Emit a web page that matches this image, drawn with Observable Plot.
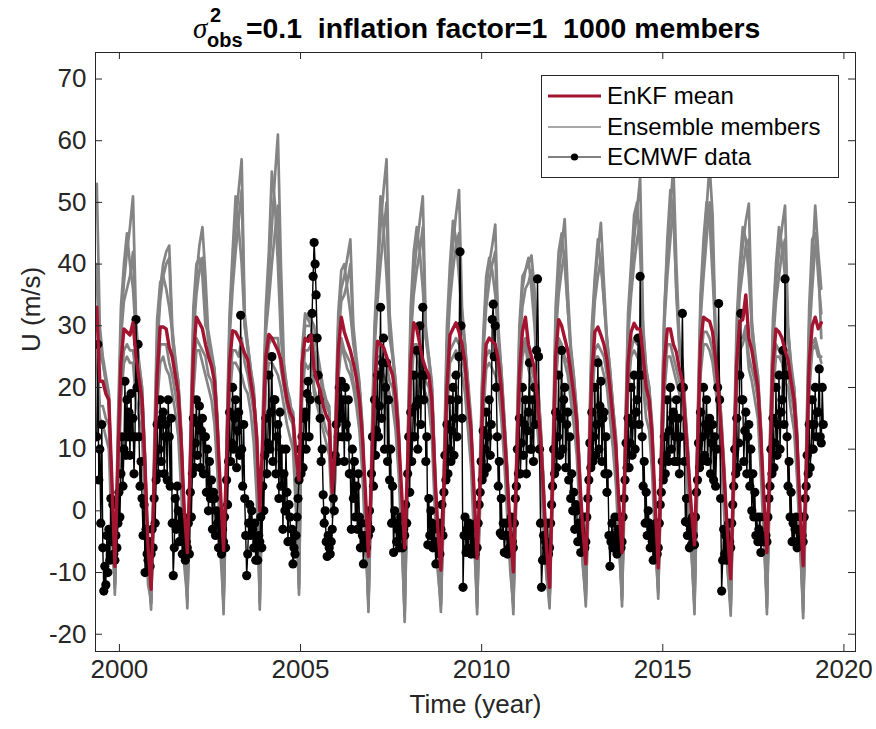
<!DOCTYPE html>
<html><head><meta charset="utf-8">
<script src="https://cdn.jsdelivr.net/npm/d3@7"></script>
<script src="https://cdn.jsdelivr.net/npm/@observablehq/plot@0.6"></script>
<style>body{margin:0;background:#fff;}</style>
</head><body><div id="chart"></div>
<script>
// time grid start (year); mean & members monthly, ECMWF every 1/36 year
const T0 = 1999.375;

// EnKF mean, one row per year (12 monthly values starting at T0+k)
const meanRows = [
 [33,21,21,19,18,5,-9,8,24,29.5,29,28.5],
 [30.5,25,21.5,18,7,-6,-12.7,5,22,29.8,29.8,29.5],
 [26.5,25,22,19,11,0,-6.75,8,25,31.4,30.5,29.5],
 [27,25,23.5,21,13,3,-6.4,8,24,29.2,29,28],
 [27,25.5,24.5,21,18,12,0,12,25,28.6,28,27],
 [26,24.5,21,18,16,15,9,5,24,28,27.5,28.5],
 [23,21,19.5,17,15.5,14.5,3,10,26,31.4,29,27.5],
 [26,24,21.5,18,12,3,-7.4,6,20,27.5,27,26.5],
 [25,23.5,22,18.5,12,3,-6,8,24,30.5,29.5,27],
 [24.5,23,22,18,6,-3,-9.6,4,20,28.5,29.5,30.5],
 [29,27,24,18,13,3,-7.7,5,20,27,28,27.5],
 [27,24.5,20,13,5,-3,-9.9,6,22,29,31.4,27],
 [25,23,18,12,3,-6,-12.4,5,25,31,30,28],
 [26,22.6,19,14.5,5,-3,-8.6,6,22,29,29.8,28.5],
 [27,24.5,20,15,10,1,-6.75,8,24,29,30.4,29.5],
 [29.5,25,20,18,12,1,-9.25,8,24,29.5,29.5,27],
 [25.75,23,21,14,7,0,-5.5,10,27,31.4,31,30.75],
 [29,24.5,19,12,4,-4,-11,6,24,30.75,31,35],
 [28,26,23,20,12,2,-6.75,8,24,29.5,29,28],
 [26,24.5,21,18,11,0,-8.9,6,24,30,31.4,29.5],
 [30.5]
];

// Ensemble members (monthly)
const memberARows = [
 [53,30,25,22,19,2,-13.6,10,30,37,42,46],
 [51,31,24,20,9,-9,-16,7,28,36,40,42],
 [43,30,24,21,13,-4,-15.8,9,30,38,43,46],
 [38,28,25,23,15,-2,-16.75,10,30,40,46,52],
 [57,32,27,23,20,10,-16,12,30,38,46,54],
 [61,40,24,20,18,14,2,-13.6,22,31,32,31],
 [30,26,23,20,18,17,3,12,30,36,38,41],
 [44,30,25,21,14,-2,-16.4,8,28,38,46,52],
 [57,32,26,21,14,-3,-18,10,30,38,43,47],
 [51,30,25,21,8,-9,-16.4,6,27,37,43,48],
 [52,33,27,21,15,-2,-16.75,7,27,36,40,43],
 [46.4,30,23,15,7,-8,-16.75,8,28,36,39,40],
 [41.4,36,22,14,5,-10,-15.8,7,30,38,43,47.3],
 [36,27,22,16,7,-8,-15.5,8,28,37,42,46.7],
 [37,28,23,17,12,-4,-15.5,10,30,38,44,49],
 [54,30,23,20,14,-4,-14.25,10,32,42,49,56],
 [40,28,24,16,9,-6,-16.75,12,33,42,49,56],
 [48,29,21,14,6,-9,-17,8,28,38,43,47],
 [49.8,31,25,22,14,-3,-16.75,10,29,37,42,46],
 [49.5,30,23,20,13,-4,-17.4,8,30,40,49.5,42],
 [36]
];
const memberBRows = [
 [40,26,24,21,17,4,-11,9,28,34,36,38],
 [42,29,23,19,8,-7,-14,6,26,34,38,40],
 [41,28,23,20,12,-2,-13,9,28,35,39,41],
 [32,27,24,22,14,0,-14,9,28,36,42,47],
 [52,30,26,22,19,12,-12,12,29,34,40,45],
 [49.5,30,23,19,17,16,7,-8,24,30,30,30],
 [26,24,22,19,17,16,1,10,28,34,35,37],
 [40,28,24,20,13,0,-13,8,26,34,40,45],
 [50,30,25,20,13,-1,-14,9,28,35,39,42],
 [46,28,24,20,7,-7,-14,5,25,34,39,43],
 [45,31,26,20,14,0,-14,7,25,33,37,40],
 [42,28,22,14,6,-6,-14,7,26,33,36,37],
 [39,33,21,13,4,-9,-14.5,6,28,35,39,42],
 [33,26,21,15,6,-6,-13,7,26,34,38,41],
 [34,27,22,16,11,-2,-13,9,28,35,40,44],
 [47,28,22,19,13,-2,-12,9,30,38,44,50],
 [35,26,23,15,8,-4,-14,11,31,38,44,50],
 [44,27,20,13,5,-7,-15,7,27,35,39,43],
 [44,29,24,21,13,-1,-14,9,27,34,38,42],
 [44,28,22,19,12,-2,-15,7,28,36,43,40],
 [28]
];
const memberCRows = [
 [27,17,17,15,14,0,-12,4,20,26,27,26],
 [26,22,19,15,4,-8,-15,3,20,27,27,27],
 [24,22,19,16,8,-4,-13,5,22,28,27,26],
 [25,22,21,18,10,-1,-12,5,21,26,26,25],
 [28,24,22,19,16,8,-10,8,22,27,28,28],
 [28,23,20,17,15,14,6,0,20,26,26,27],
 [20,18,17,15,13,12,0,7,22,28,26,25],
 [24,21,19,15,9,-1,-12,4,18,25,25,24],
 [24,21,20,16,9,-1,-12,5,21,27,27,25],
 [23,21,20,15,3,-6,-13,2,18,26,27,28],
 [27,25,22,15,10,-1,-12,3,18,25,26,25],
 [25,22,18,10,2,-6,-13,4,20,26,28,25],
 [23,21,16,10,1,-8,-14,3,22,28,27,25],
 [24,20,17,12,3,-5,-11,4,19,26,27,26],
 [25,22,18,13,8,-1,-11,6,21,26,28,27],
 [27,22,18,16,10,-1,-11,5,22,27,27,25],
 [23,21,19,12,5,-3,-12,7,24,29,29,28],
 [26,22,17,10,2,-7,-14,4,21,28,28,30],
 [25,23,21,18,9,-1,-12,5,21,27,26,25],
 [24,22,19,16,8,-3,-13,4,21,27,28,26],
 [24]
];
const memberDRows = [
 [38,25,24,21,19,3,-12.6,14,33,40,45,40],
 [36,28,24,20,8,-8,-15,10,31,37,38,36],
 [33,29,25,21,12,-3,-14.8,12,33,40,41,38],
 [30,29,26,23,14,0,-15.7,12,32,42,51,46],
 [40,30,27,23,19,12,-15,16,33,42,55,50],
 [40,28,23,20,17,16,8,-12.6,26,32,31,30],
 [26,23,22,19,17,16,2,14,32,39,40,36],
 [32,27,24,20,13,0,-15.4,10,30,40,51,46],
 [38,28,25,21,13,-1,-17,12,33,42,46,42],
 [36,28,25,20,7,-7,-15.4,8,30,40,47,44],
 [38,31,27,20,14,0,-15.75,9,28,38,41,39],
 [35,28,23,15,6,-6,-15.75,10,30,38,39,41],
 [36,30,21,14,4,-9,-14.8,9,33,42,45,40],
 [33,26,22,16,6,-6,-14.5,10,30,38,44,40],
 [34,28,23,17,11,-2,-14.5,12,32,40,48,50],
 [42,29,23,20,13,-2,-13.25,12,32,44,52,48],
 [36,27,24,16,8,-4,-15.75,14,35,44,50,47],
 [38,28,22,14,5,-7,-16,10,31,40,46,44],
 [38,30,26,22,13,-1,-15.75,12,31,40,46,43],
 [38,29,24,20,12,-2,-16.4,10,33,44,45,38],
 [32]
];
const memberERows = [
 [25,15,14,12,10,-4,-12,2,18,24,25,24],
 [24,18,15,12,0,-12,-14.5,0,17,24,25,23],
 [22,19,16,12,3,-9,-14.3,2,19,26,26,24],
 [22,20,18,14,6,-7,-15.2,3,18,24,24,23],
 [22,20,19,16,11,2,-14.5,5,20,24,24,23],
 [22,20,17,14,12,10,0,-12,18,24,23,24],
 [19,17,15,13,11,9,-1,5,21,27,25,23],
 [22,20,17,13,6,-5,-15,2,16,23,23,22],
 [21,19,17,13,6,-5,-16.5,3,19,26,25,23],
 [20,19,17,12,0,-10,-15,0,15,24,25,26],
 [24,22,19,13,7,-5,-15.2,1,15,23,24,23],
 [22,20,15,8,-1,-10,-15.2,2,17,25,27,23],
 [21,19,13,7,-3,-11,-14.3,1,20,27,26,24],
 [22,18,14,9,-1,-9,-14,2,17,25,25,24],
 [22,20,15,10,4,-6,-14,4,19,25,26,25],
 [24,20,15,13,6,-6,-12.8,4,19,25,25,23],
 [21,19,16,9,1,-7,-15.2,5,22,27,27,26],
 [24,20,14,7,-2,-10,-15.5,2,19,26,27,29],
 [23,21,18,15,6,-5,-15.2,4,19,25,25,24],
 [21,20,16,13,5,-6,-15.8,2,19,26,27,25],
 [25]
];

// ECMWF data, one row per year (36 values, every 1/36 year from T0+k)
const ecmwfRows = [
 [12,27,5, 10,-2,14, -6,-13,-9, -12,-4,-10, -3,-8,2, -5,1,-7, -8,-4,-6, -2,3,-1, 6,12,4, 10,21,9, 18,12,16, 9,19,12],
 [15,6,12, 31,20,27, 12,4,8, 2,-4,1, -10,-3,-7, -8,-5,-9, -7,-3,-6, 2,-2,5, 14,6,10, 18,8,15, 16,6,12, 14,5,18],
 [12,4,15, -2,-10.5,-6, 2,-3,4, 0,-5,-2, -3,-7,-1, -4,-8,-5, -6,-2,-7, 3,-1,6, 15,7,11, 18,9,14, 17,7,13, 15,6,12],
 [12,3,10, 0,8,2, 5,-3,3, 2,-4,0, -2,-6,-1, -4,-7,-3, -5,-1,-6, 5,1,8, 16,8,11, 20,10,15, 18,7,13, 16,9,31.7],
 [10,4,14, 2,-4,-10.5, -7,-2,1, -4,0,-3, -6,-2,-8, -5,-8,-4, -5,-1,-6, 4,0,9, 15,6,11, 22,10,16, 25,8,18, 18,6,12],
 [14,2,16, 4,10,-3, 6,0,10, 3,-5,1, -1,-5,-3, -8.6,-6,-7, -4,-1,2, 5,10,6, 12,7,15, 16,10,19, 21,12,18, 28,32,38],
 [43.5,40,35, 28,22,18, 15,8,10, 2.6,-2,0, -5,-7.4,-4, -6,-7,-5, -3,2,0, 9,14,8, 12,20,15, 21,12,18, 8,20,14, 12,18,6],
 [6,-3,10, 2,8,-1, 4,-3,6, -1,-6,-2, -4,-8.6,-5, -4,-6,-2, -4,0,-3, 6,12,4, 18,9,13, 22,12,17, 33,15,24, 28,10,20],
 [24,8,18, 5,10,-2, 4,-6.75,0, -2,-5,-3, -3,-6,-1, -4,-6,-3, -4,1,-2, 6,12,3, 16,8,12, 22,12,17, 26,10,18, 30,14,22],
 [33,18,22, 8,12,-5.5, 2,-4,0, -2,-6,-3, -5,-8.6,-6, -6,-2,-7, -3,1,-4, 3,9,5, 14,6,10, 18,8,13, 20,9,15, 22,12,18],
 [25,42,30, 15,-12.4,-4, -1,-6.75,-3, -6,-2,-4, -7,-3,-6, -5,-7,-2, -6,-2,1, 3,8,5, 13,6,10, 16,7,12, 18,9,14, 31,33.5,25],
 [30,20,12, 4,8,-3.6, 2,-4,-2, -6.75,-4,-2, -7,-4,-6, -6,-1,-5, -6,-2,2, 4,10,6, 15,6,11, 20,9,14, 18,6,13, 16,24,10],
 [10,18,8, 20,14,26, 37.6,25,10, -2,-12.4,-8, -4,-8,-5, -6,-2,-7, -6,-2,1, 4,10,6, 16,7,12, 22,9,15, 26,10,18, 20,7,14],
 [16,5,12, 2,6,0, 3,-3,1, 0,-5,-2, -3,-6.75,-4, -5,-1,-6, -5,-1,2, 5,11,7, 16,8,12, 20,9,14, 24,10,17, 21,8,15],
 [16,6,12, 3,6,-4, -9,-5,-2, -6,-4,-1, -4,-7,-3, -5,-1,-6, -5,-1,2, 5,11,7, 15,7,11, 20,9,14, 22,10,16, 18,28,14],
 [38,22,12, 4,8,-2, 3,-4,0, -2,-6,-3, -5,-8,-4, -6,-2,-7, -6,-2,1, 3,8,5, 12,6,9, 18,8,13, 20,10,15, 16,8,12],
 [18,8,15, 6,12,20, 32,20,8, -1.75,2,-4, -2,-6,-3, -5.5,-1,-4, -5.5,-1,3, 5,11,7, 16,8,12, 20,9,14, 18,8,13, 15,6,11],
 [14,5,12, 4,10,20, 33.6,18,2, -13,-8,-3, -7,-4,-8, -6,-2,-5, -6,-2,1, 4,10,6, 15,7,11, 22,32,18, 18,8,13, 16,6,12],
 [14,4,10, 0,6,-1, 3,-4,-1, -5,-3,-1, -6.75,-4,-5, -5,-1,-4, -5,-1,2, 4,10,6, 15,7,11, 20,9,14, 22,10,16, 18,26,14],
 [37.6,22,12, 4,8,-1, 3,-5,-2, -5,-3,-1, -6,-3,-5, -5.5,-1,-4, -5,-1,2, 4,9,6, 14,7,10, 18,10,14, 20,12,16, 16,23,12],
 [11,20,14]
];

const xTicks = [2000, 2005, 2010, 2015, 2020];
const yTicks = [-20, -10, 0, 10, 20, 30, 40, 50, 60, 70];

const series = (rows, perYear) => rows.flat().map((v, i) => ({t: T0 + i / perYear, v}));
const meanData = series(meanRows, 12);
const members = [memberERows, memberCRows, memberBRows, memberDRows, memberARows].map(r => series(r, 12));
const ecmwf = series(ecmwfRows, 36);

const W = 876, H = 729, mL = 95, mR = 21, mT = 52, mB = 78;
const fw = W - mL - mR, fh = H - mT - mB, tl = 7;
const FONT = "'Liberation Sans', Arial, Helvetica, sans-serif";
const AX = "#262626";
const RED = "#A2142F", GRAY = "#848484";

const plot = Plot.plot({
  width: W, height: H,
  marginLeft: mL, marginRight: mR, marginTop: mT, marginBottom: mB,
  style: {fontFamily: FONT, fontSize: "26px", color: AX, background: "#fff", overflow: "visible"},
  x: {domain: [1999.34, 2020.32]},
  y: {domain: [-22.8, 74.3]},
  marks: [
    ...members.map(m => Plot.line(m, {x: "t", y: "v", stroke: GRAY, strokeWidth: 2.7, clip: true})),
    Plot.line(ecmwf, {x: "t", y: "v", stroke: "#000", strokeWidth: 1.4, clip: true}),
    Plot.dot(ecmwf, {x: "t", y: "v", r: 4.6, fill: "#000", stroke: "none", clip: true}),
    Plot.line(meanData, {x: "t", y: "v", stroke: RED, strokeWidth: 3.4, clip: true}),
    Plot.frame({stroke: AX, strokeWidth: 1}),
    Plot.tickX(xTicks, {x: d => d, insetTop: fh - tl, stroke: AX}),
    Plot.tickX(xTicks, {x: d => d, insetBottom: fh - tl, stroke: AX}),
    Plot.tickY(yTicks, {y: d => d, insetRight: fw - tl, stroke: AX}),
    Plot.tickY(yTicks, {y: d => d, insetLeft: fw - tl, stroke: AX}),
    Plot.axisX(xTicks, {tickSize: 0, tickPadding: 8, fontSize: 26, label: null, tickFormat: d => String(d)}),
    Plot.axisY(yTicks, {tickSize: 0, tickPadding: 9, fontSize: 26, label: null, tickFormat: d => String(d)}),
    Plot.text(["Time (year)"], {frameAnchor: "bottom", dy: 61, fontSize: 26, fill: AX}),
    Plot.text(["U (m/s)"], {frameAnchor: "left", dx: -64, rotate: -90, fontSize: 26, fill: AX})
  ]
});

const svg = d3.select(plot);
// title
const tg = svg.append("g").attr("fill", "#000").attr("font-family", FONT).attr("text-anchor", "start");
tg.append("text").attr("x", 193).attr("y", 38).attr("font-size", 29)
  .attr("font-style", "italic").attr("font-family", "'Liberation Serif', 'DejaVu Serif', serif").text("σ");
tg.append("text").attr("x", 210).attr("y", 22).attr("font-size", 20).attr("font-weight", "bold").text("2");
tg.append("text").attr("x", 207).attr("y", 47).attr("font-size", 20).attr("font-weight", "bold").text("obs");
tg.append("text").attr("x", 246).attr("y", 38).attr("font-size", 28.4).attr("font-weight", "bold")
  .style("white-space", "pre").text("=0.1  inflation factor=1  1000 members");

// legend
const lg = svg.append("g").attr("font-family", FONT).attr("font-size", 24).attr("text-anchor", "start");
lg.append("rect").attr("x", 541.5).attr("y", 75.5).attr("width", 297).attr("height", 102)
  .attr("fill", "#fff").attr("stroke", AX).attr("stroke-width", 1);
const rows = [
  {label: "EnKF mean", stroke: RED, w: 3.2, dot: false, y: 96},
  {label: "Ensemble members", stroke: "#a8a8a8", w: 2, dot: false, y: 127},
  {label: "ECMWF data", stroke: "#000", w: 1, dot: true, y: 157}
];
rows.forEach(r => {
  lg.append("line").attr("x1", 548).attr("x2", 601).attr("y1", r.y).attr("y2", r.y)
    .attr("stroke", r.stroke).attr("stroke-width", r.w);
  if (r.dot) lg.append("circle").attr("cx", 574.5).attr("cy", r.y).attr("r", 3.6).attr("fill", "#000");
  lg.append("text").attr("x", 607).attr("y", r.y).attr("dy", "0.35em").attr("fill", "#000").text(r.label);
});

document.getElementById("chart").appendChild(plot);
</script>
</body></html>
